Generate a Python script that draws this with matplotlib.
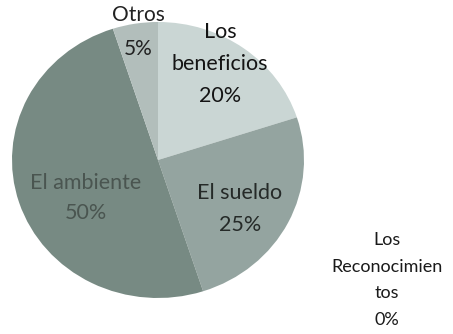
import matplotlib.pyplot as plt

categorias = ['Los\nbeneficios', 'El sueldo', 'El ambiente', 'Otros', 'Los\nReconocimien\ntos']
porcentajes = [20, 25, 50, 5, 0]
colores = ['#cad6d4', '#94a4a0', '#778a83', '#b2bebb', '#e0e6e4']

plt.rcParams['font.family'] = ['Lato', 'DejaVu Sans']

W, H = 453, 334
fig = plt.figure(figsize=(W / 100, H / 100), dpi=100)
ax = fig.add_axes([12 / W, 36 / H, 292 / W, 276 / H])

ax.pie(porcentajes, colors=colores, startangle=90, counterclock=False,
       wedgeprops=dict(linewidth=0))
ax.set_aspect('auto')
ax.set_xlim(-1, 1)
ax.set_ylim(-1, 1)

# etiquetas (posiciones en pixeles de la imagen): x, y, color, tamano, interlineado
etiquetas = [
    (220, 64, '#141414', 15.5, 1.78),
    (240, 209, '#252a28', 15.5, 1.8),
    (86, 198, '#4a5550', 15.5, 1.65),
    (138, 32, '#222222', 15, 1.9),
    (387, 280, '#1a1a1a', 13, 1.82),
]
for (px, py, c, fs, ls), cat, v in zip(etiquetas, categorias, porcentajes):
    fig.text(px / W, 1 - py / H, f'{cat}\n{v}%', ha='center', va='center',
             color=c, fontsize=fs, linespacing=ls)

fig.savefig('out.png', dpi=100)
